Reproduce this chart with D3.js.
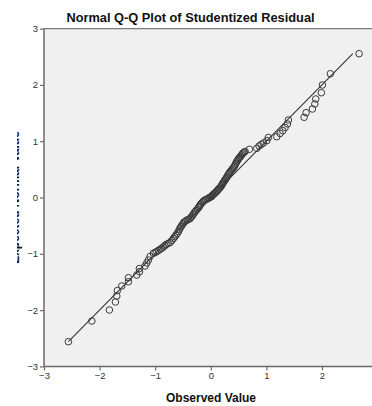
<!DOCTYPE html>
<html>
<head>
<meta charset="utf-8">
<script src="https://cdn.jsdelivr.net/npm/d3@7"></script>
<style>
  html, body { margin: 0; padding: 0; background: #fff; }
  svg { display: block; font-family: "Liberation Sans", Arial, sans-serif; }
</style>
</head>
<body>
<script>
// Observed (studentized residual) and expected normal values
var observed = [
  -2.561, -2.140, -1.824, -1.716, -1.691, -1.680, -1.601, -1.482, -1.482, -1.331,
  -1.284, -1.284, -1.182, -1.151, -1.122, -1.092,
  -1.032, -1.000, -0.971, -0.942, -0.912, -0.882, -0.853, -0.828, -0.804, -0.768,
  -0.732, -0.702, -0.673, -0.648, -0.624, -0.603, -0.583, -0.567, -0.552, -0.534,
  -0.516, -0.498, -0.480, -0.453, -0.426, -0.399, -0.372, -0.354, -0.336, -0.318,
  -0.300, -0.282, -0.264, -0.241, -0.219, -0.205, -0.192, -0.174, -0.156, -0.138,
  -0.121, -0.094, -0.067, -0.044, -0.022, -0.004, 0.014, 0.027, 0.041, 0.059,
  0.077, 0.095, 0.113, 0.126, 0.140, 0.158, 0.176, 0.190, 0.203, 0.216,
  0.230, 0.243, 0.257, 0.270, 0.284, 0.297, 0.311, 0.324, 0.338, 0.356,
  0.374, 0.392, 0.410, 0.423, 0.437, 0.450, 0.464, 0.477, 0.491, 0.504,
  0.518, 0.536, 0.554, 0.567, 0.581, 0.599, 0.617,
  0.694, 0.827, 0.869, 0.905, 0.946, 1.007, 1.036, 1.187, 1.246, 1.295,
  1.336, 1.378, 1.396, 1.678, 1.714, 1.827, 1.871, 1.888, 1.989, 2.007,
  2.151, 2.667
];
var expected = [
  -2.561, -2.194, -1.998, -1.856, -1.750, -1.652, -1.572, -1.496, -1.425, -1.377,
  -1.318, -1.261, -1.217, -1.163, -1.110, -1.048,
  -0.991, -0.975, -0.959, -0.940, -0.920, -0.900, -0.879, -0.857, -0.835, -0.817,
  -0.799, -0.764, -0.728, -0.697, -0.666, -0.635, -0.604, -0.573, -0.542, -0.515,
  -0.488, -0.462, -0.435, -0.418, -0.400, -0.387, -0.373, -0.351, -0.329, -0.302,
  -0.275, -0.253, -0.231, -0.205, -0.178, -0.156, -0.133, -0.111, -0.089, -0.071,
  -0.053, -0.040, -0.027, -0.013, 0.000, 0.009, 0.018, 0.036, 0.053, 0.066,
  0.080, 0.098, 0.115, 0.133, 0.151, 0.168, 0.186, 0.208, 0.231, 0.253,
  0.275, 0.293, 0.311, 0.333, 0.355, 0.378, 0.400, 0.422, 0.444, 0.466,
  0.488, 0.511, 0.533, 0.555, 0.577, 0.604, 0.631, 0.653, 0.675, 0.693,
  0.710, 0.733, 0.755, 0.773, 0.790, 0.804, 0.817,
  0.856, 0.874, 0.915, 0.941, 0.968, 1.009, 1.066, 1.080, 1.137, 1.186,
  1.243, 1.306, 1.377, 1.425, 1.506, 1.572, 1.661, 1.750, 1.861, 1.998,
  2.199, 2.554
];
var xTicks = [-3, -2, -1, 0, 1, 2];
var yTicks = [-3, -2, -1, 0, 1, 2, 3];
var titleText = "Normal Q-Q Plot of Studentized Residual";
var xLabel = "Observed Value";
var yLabel = "Expected Normal Value";

function drawChart () {
    var width = 372, height = 406;
    var plotLeft = 44, plotTop = 28.6, plotBottom = 366.4, plotRight = 377.6;

    var svg = d3.select("body").append("svg")
                .attr("width", width)
                .attr("height", height);

    var x = d3.scaleLinear().domain([-3, 3]).range([plotLeft, plotRight]);
    var y = d3.scaleLinear().domain([-3, 3]).range([plotBottom, plotTop]);

    // plot background
    svg.append("rect")
       .attr("x", plotLeft)
       .attr("y", plotTop)
       .attr("width", width - plotLeft)
       .attr("height", plotBottom - plotTop)
       .style("fill", "#f0f0f0");

    // top border
    svg.append("line")
       .attr("x1", plotLeft).attr("x2", width)
       .attr("y1", plotTop).attr("y2", plotTop)
       .style("stroke", "#7a7a7a")
       .style("stroke-width", 1.2);

    // axes
    var xAxis = svg.append("g")
       .attr("transform", "translate(0," + plotBottom + ")")
       .call(d3.axisBottom(x).tickValues(xTicks).tickSize(4).tickPadding(2).tickFormat(d3.format("d")));
    var yAxis = svg.append("g")
       .attr("transform", "translate(" + plotLeft + ",0)")
       .call(d3.axisLeft(y).tickValues(yTicks).tickSize(4).tickPadding(2).tickFormat(d3.format("d")));

    [xAxis, yAxis].forEach(function (g) {
        g.select(".domain").style("stroke", "#6a6a6a").style("stroke-width", 1.5);
        g.selectAll(".tick line").style("stroke", "#6a6a6a").style("stroke-width", 1.2);
        g.selectAll(".tick text")
         .style("font-family", "'Liberation Sans', Arial, sans-serif")
         .style("font-size", "9.5px")
         .style("fill", "#333");
    });
    xAxis.select(".domain").attr("d", "M" + plotLeft + ",0H" + width);
    yAxis.select(".domain").attr("d", "M0," + plotBottom + "V" + plotTop);

    // reference line y = x over the range of expected values
    var lo = d3.min(expected), hi = d3.max(expected);
    svg.append("line")
       .attr("x1", x(lo)).attr("y1", y(lo))
       .attr("x2", x(hi)).attr("y2", y(hi))
       .style("stroke", "#333")
       .style("stroke-width", 1.1);

    // points
    svg.append("g").selectAll("circle")
       .data(d3.range(observed.length))
       .enter().append("circle")
       .attr("cx", function (i) { return x(observed[i]); })
       .attr("cy", function (i) { return y(expected[i]); })
       .attr("r", 3.3)
       .style("fill", "none")
       .style("stroke", "#3a3a3a")
       .style("stroke-width", 1);

    // title
    svg.append("text")
       .attr("x", 190.5)
       .attr("y", 22)
       .attr("text-anchor", "middle")
       .style("font-size", "12.8px")
       .style("font-weight", "bold")
       .style("fill", "#111")
       .text(titleText);

    // x label
    svg.append("text")
       .attr("x", 211)
       .attr("y", 402)
       .attr("text-anchor", "middle")
       .style("font-size", "12px")
       .style("font-weight", "bold")
       .style("fill", "#111")
       .text(xLabel);

    // y label, mostly cut off at the left edge
    svg.append("clipPath").attr("id", "ylabClip")
       .append("rect")
       .attr("x", 17).attr("y", 0)
       .attr("width", 20).attr("height", height);

    svg.append("g")
       .attr("clip-path", "url(#ylabClip)")
       .append("text")
       .attr("transform", "translate(19.3," + y(0) + ") rotate(-90)")
       .attr("text-anchor", "middle")
       .style("font-size", "12px")
       .style("font-weight", "bold")
       .style("fill", "#111")
       .text(yLabel);
}

drawChart();
</script>
</body>
</html>
